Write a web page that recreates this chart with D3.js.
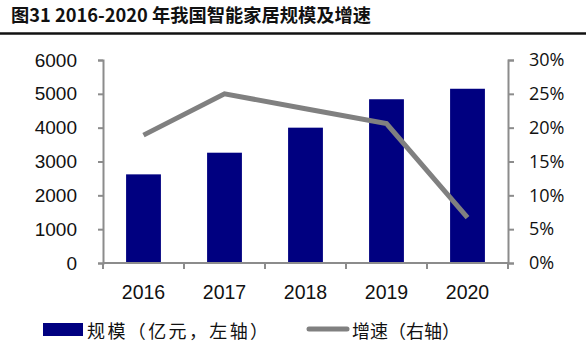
<!DOCTYPE html>
<html><head><meta charset="utf-8">
<script src="https://cdn.jsdelivr.net/npm/d3@7/dist/d3.min.js"></script>
<style>body{margin:0;background:#fff;} svg{display:block;}</style>
</head><body>
<script>
const categories = ["2016","2017","2018","2019","2020"];
const scale = [2620, 3260, 4000, 4840, 5150];
const growth = [0.189, 0.250, 0.228, 0.206, 0.067];
const leftTicks = [0,1000,2000,3000,4000,5000,6000];
const rightTicks = [0,0.05,0.10,0.15,0.20,0.25,0.30];

const W=586,H=355;
const svg=d3.select("body").append("svg").attr("width",W).attr("height",H);
const m={l:103,r:508,t:60,b:263};
const x=d3.scaleBand().domain(categories).range([m.l,m.r]).paddingInner(0.57).paddingOuter(0.285);
const yL=d3.scaleLinear().domain([0,6000]).range([m.b,m.t]);
const yR=d3.scaleLinear().domain([0,0.30]).range([m.b,m.t]);

svg.append("text").attr("x",11).attr("y",22).attr("font-family","'Noto Sans CJK SC', sans-serif")
  .attr("font-weight","bold").attr("font-size",18.5).attr("fill","#111")
  .attr("textLength",360).attr("lengthAdjust","spacingAndGlyphs").text("图31 2016-2020 年我国智能家居规模及增速");
svg.append("line").attr("x1",0).attr("x2",W).attr("y1",33.5).attr("y2",33.5).attr("stroke","#111").attr("stroke-width",2.5);

svg.selectAll("rect.bar").data(scale).join("rect").attr("class","bar")
  .attr("x",(d,i)=>x(categories[i])).attr("width",x.bandwidth())
  .attr("y",d=>yL(d)).attr("height",d=>yL(0)-yL(d)).attr("fill","#000080");

const axCol="#8c8c8c";
const gL=svg.append("g").attr("transform",`translate(${m.l},0)`).call(d3.axisLeft(yL).tickValues(leftTicks).tickSize(5).tickPadding(21).tickFormat(d3.format("d")));
const gR=svg.append("g").attr("transform",`translate(${m.r},0)`).call(d3.axisRight(yR).tickValues(rightTicks).tickSize(6).tickPadding(15).tickFormat(d3.format(".0%")));
const xb=d3.scaleLinear().domain([0,5]).range([m.l,m.r]);
const gX=svg.append("g").attr("transform",`translate(0,${m.b})`).call(d3.axisBottom(x).tickSize(0).tickPadding(22));
gX.append("g").selectAll("line").data(d3.range(0,6)).join("line")
  .attr("x1",d=>xb(d)).attr("x2",d=>xb(d)).attr("y1",0).attr("y2",6).attr("stroke",axCol).attr("stroke-width",2);
[gL,gR,gX].forEach(g=>{
  g.select(".domain").attr("stroke",axCol).attr("stroke-width",2);
  g.selectAll(".tick line").attr("stroke",axCol).attr("stroke-width",2);
  g.selectAll("text").attr("fill","#111").attr("font-size",19);
});
gL.selectAll("text").attr("font-family","'Liberation Sans', Arial, sans-serif");
gX.selectAll("text").attr("font-family","'Liberation Sans', Arial, sans-serif").attr("font-size",19.5);
gR.selectAll("text").attr("font-family","'Open Sans', sans-serif").attr("font-size",18);
gX.select(".domain").attr("d",`M${m.l},0H${m.r}`);

const line=d3.line().x((d,i)=>x(categories[i])+x.bandwidth()/2).y(d=>yR(d));
svg.append("path").datum(growth).attr("d",line).attr("fill","none").attr("stroke","#808080").attr("stroke-width",5);

const lg=svg.append("g").attr("font-family","'Noto Sans CJK SC', sans-serif").attr("font-size",18).attr("fill","#111");
lg.append("rect").attr("x",43).attr("y",323).attr("width",40).attr("height",13).attr("fill","#000080");
lg.append("text").attr("x",87).attr("y",338).attr("textLength",181).attr("lengthAdjust","spacing").text("规模（亿元，左轴）");
lg.append("line").attr("x1",309).attr("x2",347).attr("y1",329).attr("y2",329).attr("stroke","#808080").attr("stroke-width",5).attr("stroke-linecap","round");
lg.append("text").attr("x",352).attr("y",338).attr("textLength",108).attr("lengthAdjust","spacing").text("增速（右轴）");
</script>
</body></html>
